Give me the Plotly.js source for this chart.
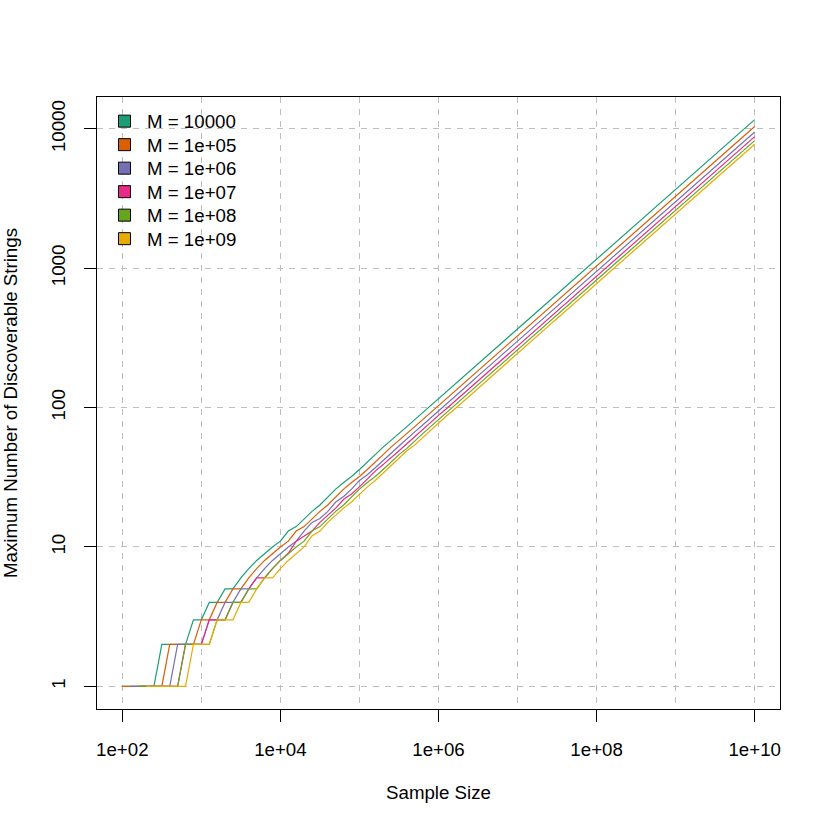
<!DOCTYPE html>
<html>
<head>
<meta charset="utf-8">
<script src="https://cdn.plot.ly/plotly-3.0.1.min.js"></script>
<style>
  html, body { margin: 0; padding: 0; background: #ffffff; }
  #chart { width: 830px; height: 830px; }
</style>
</head>
<body>
<div id="chart"></div>
<script>
// sample sizes, as powers of ten (one point every 0.1 decade)
const logSampleSize = [
    2.0, 2.1, 2.2, 2.3, 2.4, 2.5, 2.6, 2.7, 2.8, 2.9,
    3.0, 3.1, 3.2, 3.3, 3.4, 3.5, 3.6, 3.7, 3.8, 3.9,
    4.0, 4.1, 4.2, 4.3, 4.4, 4.5, 4.6, 4.7, 4.8, 4.9,
    5.0, 5.1, 5.2, 5.3, 5.4, 5.5, 5.6, 5.7, 5.8, 5.9,
    6.0, 6.1, 6.2, 6.3, 6.4, 6.5, 6.6, 6.7, 6.8, 6.9,
    7.0, 7.1, 7.2, 7.3, 7.4, 7.5, 7.6, 7.7, 7.8, 7.9,
    8.0, 8.1, 8.2, 8.3, 8.4, 8.5, 8.6, 8.7, 8.8, 8.9,
    9.0, 9.1, 9.2, 9.3, 9.4, 9.5, 9.6, 9.7, 9.8, 9.9,
    10.0
];

const seriesNames = ["M = 10000", "M = 1e+05", "M = 1e+06", "M = 1e+07", "M = 1e+08", "M = 1e+09"];
const seriesColors = ["#1B9E77", "#D95F02", "#7570B3", "#E7298A", "#66A61E", "#E6AB02"];

// maximum number of discoverable strings (null = zero, not shown on log axis)
const strings1e4 = [
    1, 1, 1, 1, 1, 2, 2, 2, 2, 3,
    3, 4, 4, 5, 5, 6, 7, 8, 9, 10,
    11, 13, 14, 16, 18, 20, 23, 26, 29, 32,
    36, 41, 46, 52, 58, 65, 73, 82, 92, 103,
    116, 130, 146, 164, 184, 207, 232, 260, 292, 328,
    368, 413, 463, 520, 583, 655, 735, 824, 925, 1038,
    1164, 1306, 1466, 1645, 1846, 2071, 2324, 2607, 2926, 3283,
    3683, 4133, 4637, 5203, 5838, 6551, 7350, 8247, 9253, 10383,
    11649
];
const strings1e5 = [
    1, 1, 1, 1, 1, 1, 2, 2, 2, 2,
    3, 3, 4, 4, 5, 5, 6, 7, 8, 9,
    10, 11, 13, 14, 16, 18, 20, 23, 26, 29,
    32, 36, 41, 46, 52, 58, 65, 73, 82, 92,
    104, 116, 131, 147, 165, 185, 207, 233, 261, 293,
    329, 369, 414, 465, 522, 586, 657, 737, 827, 928,
    1041, 1169, 1311, 1471, 1651, 1853, 2079, 2332, 2617, 2936,
    3295, 3697, 4148, 4654, 5222, 5860, 6575, 7377, 8277, 9287,
    10419
];
const strings1e6 = [
    null, 1, 1, 1, 1, 1, 1, 2, 2, 2,
    2, 3, 3, 4, 4, 5, 5, 6, 7, 8,
    9, 10, 11, 13, 15, 16, 18, 21, 23, 26,
    30, 33, 37, 42, 47, 53, 60, 67, 75, 84,
    95, 106, 119, 134, 150, 169, 189, 212, 238, 268,
    300, 337, 378, 424, 476, 534, 600, 673, 755, 847,
    951, 1067, 1197, 1343, 1507, 1691, 1897, 2129, 2389, 2680,
    3007, 3375, 3786, 4249, 4767, 5349, 6001, 6734, 7555, 8477,
    9512
];
const strings1e7 = [
    null, null, 1, 1, 1, 1, 1, 1, 2, 2,
    2, 3, 3, 3, 4, 4, 5, 6, 6, 7,
    8, 9, 11, 12, 13, 15, 17, 19, 22, 24,
    27, 31, 35, 39, 44, 49, 55, 62, 69, 78,
    88, 98, 110, 124, 139, 156, 175, 197, 221, 248,
    278, 312, 350, 393, 441, 495, 555, 623, 699, 784,
    880, 988, 1108, 1244, 1395, 1566, 1757, 1971, 2212, 2482,
    2785, 3124, 3506, 3933, 4413, 4952, 5556, 6234, 6995, 7849,
    8806
];
const strings1e8 = [
    null, null, 1, 1, 1, 1, 1, 1, 2, 2,
    2, 2, 3, 3, 4, 4, 5, 5, 6, 7,
    8, 9, 10, 11, 13, 14, 16, 18, 20, 23,
    26, 29, 32, 36, 41, 46, 51, 58, 65, 73,
    82, 92, 103, 116, 130, 146, 164, 184, 206, 232,
    260, 292, 327, 367, 412, 463, 519, 583, 654, 734,
    823, 924, 1037, 1163, 1305, 1465, 1643, 1844, 2069, 2321,
    2605, 2923, 3279, 3679, 4128, 4632, 5197, 5832, 6543, 7342,
    8237
];
const strings1e9 = [
    null, null, null, 1, 1, 1, 1, 1, 1, 2,
    2, 2, 3, 3, 3, 4, 4, 5, 6, 6,
    7, 8, 9, 10, 12, 13, 15, 17, 19, 21,
    24, 27, 30, 34, 38, 43, 49, 54, 61, 69,
    77, 87, 97, 109, 123, 138, 154, 173, 195, 218,
    245, 275, 309, 346, 389, 436, 490, 549, 616, 692,
    776, 871, 977, 1097, 1230, 1381, 1549, 1738, 1950, 2188,
    2456, 2755, 3091, 3469, 3892, 4367, 4900, 5498, 6169, 6922,
    7766
];

const xTickVals = [1e2, 1e4, 1e6, 1e8, 1e10];
const xTickText = ["1e+02", "1e+04", "1e+06", "1e+08", "1e+10"];
const xMinorVals = [1e3, 1e5, 1e7, 1e9];
const yTickVals = [1, 10, 100, 1000, 10000];
const yTickText = ["1", "10", "100", "1000", "10000"];

const allSeries = [strings1e4, strings1e5, strings1e6, strings1e7, strings1e8, strings1e9];
const sampleSize = logSampleSize.map(e => Math.pow(10, e));

const FONT = "Liberation Sans, Arial, Helvetica, sans-serif";
const FONT_SIZE = 18.7;
const GRID = "#BEBEBE";

// plot box in pixels, used to place the legend rows
const PLOT_TOP = 97, PLOT_H = 612, PLOT_LEFT = 97, PLOT_W = 683;
const LEGEND_ROW0 = 102.5, LEGEND_STEP = 23.5;

const lineTraces = allSeries.map((ys, i) => ({
    x: sampleSize,
    y: ys,
    type: "scatter",
    mode: "lines",
    line: { color: seriesColors[i], width: 1.2 },
    connectgaps: false,
    showlegend: false,
    hoverinfo: "skip"
}));

// one legend per entry so the row spacing can follow the original
const legendId = i => (i === 0 ? "legend" : "legend" + (i + 1));

const legendTraces = seriesNames.map((name, i) => ({
    x: [null],
    y: [null],
    type: "scatter",
    mode: "markers",
    name: name,
    legend: legendId(i),
    marker: { symbol: "square", size: 12, color: seriesColors[i], line: { color: "#000000", width: 1 } }
}));

const layout = {
    width: 830,
    height: 830,
    margin: { l: 97, r: 50, t: 97, b: 121 },
    paper_bgcolor: "#ffffff",
    plot_bgcolor: "#ffffff",
    font: { family: FONT, size: FONT_SIZE, color: "#000000" },
    showlegend: true,
    xaxis: {
        type: "log",
        range: [1.68, 10.32],
        tickmode: "array",
        tickvals: xTickVals,
        ticktext: xTickText,
        ticks: "outside",
        ticklen: 12,
        tickwidth: 1,
        tickcolor: "#000000",
        ticklabelstandoff: 12,
        showline: true,
        mirror: true,
        linecolor: "#000000",
        linewidth: 1,
        showgrid: true,
        gridcolor: GRID,
        griddash: "6px,6px",
        gridwidth: 1,
        minor: {
            tickvals: xMinorVals,
            ticks: "",
            showgrid: true,
            gridcolor: GRID,
            griddash: "6px,6px",
            gridwidth: 1
        },
        zeroline: false,
        automargin: false,
        title: { text: "Sample Size", standoff: 26, font: { family: FONT, size: FONT_SIZE } }
    },
    yaxis: {
        type: "log",
        range: [-0.163, 4.229],
        tickmode: "array",
        tickvals: yTickVals,
        ticktext: yTickText,
        tickangle: -90,
        ticks: "outside",
        ticklen: 12,
        tickwidth: 1,
        tickcolor: "#000000",
        ticklabelstandoff: 12,
        showline: true,
        mirror: true,
        linecolor: "#000000",
        linewidth: 1,
        showgrid: true,
        gridcolor: GRID,
        griddash: "6px,6px",
        gridwidth: 1,
        zeroline: false,
        automargin: false,
        title: { text: "Maximum Number of Discoverable Strings", standoff: 26, font: { family: FONT, size: FONT_SIZE } }
    }
};

seriesNames.forEach((name, i) => {
    layout[legendId(i)] = {
        x: (102 - PLOT_LEFT) / PLOT_W,
        y: 1 - (LEGEND_ROW0 + LEGEND_STEP * i - PLOT_TOP) / PLOT_H,
        xanchor: "left",
        yanchor: "top",
        bgcolor: "rgba(0,0,0,0)",
        borderwidth: 0,
        itemwidth: 35,
        font: { family: FONT, size: FONT_SIZE, color: "#000000" }
    };
});

Plotly.newPlot("chart", lineTraces.concat(legendTraces), layout, { displayModeBar: false, staticPlot: true });
</script>
</body>
</html>
